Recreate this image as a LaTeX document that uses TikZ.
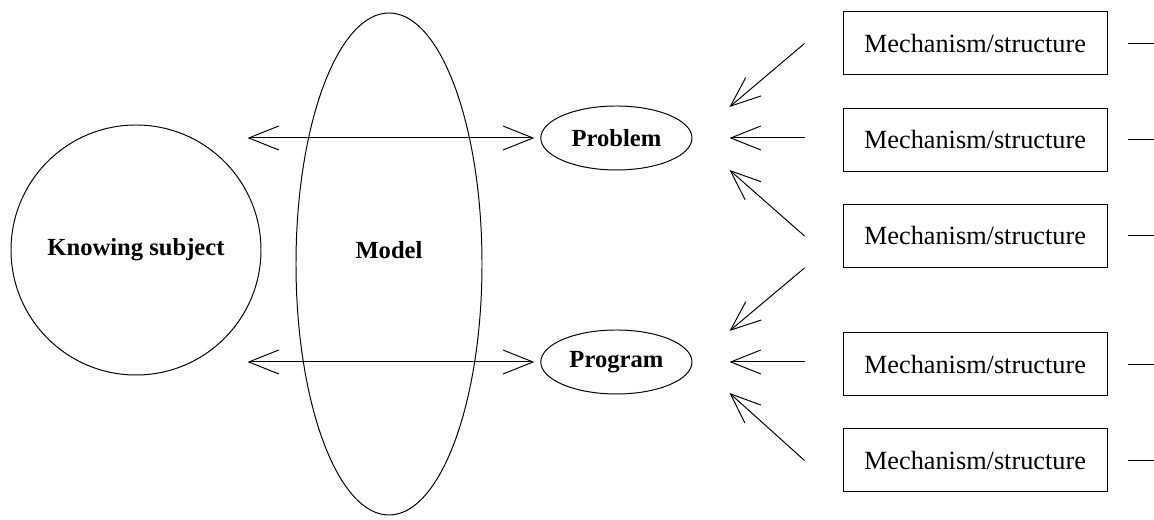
\documentclass[tikz,border=0pt]{standalone}
\usepackage{fontspec}
\setmainfont{Liberation Serif}
\usetikzlibrary{arrows.meta,shapes.geometric}

\tikzset{
    plainfont/.style={font=\fontsize{18.7}{22}\selectfont},
    boldfont/.style={font=\fontsize{17.5}{21}\selectfont\bfseries},
    mechbox/.style={draw, plainfont, minimum width=6.6cm, minimum height=1.575cm, inner sep=0pt},
    roundnode/.style={draw, ellipse, boldfont, inner sep=0pt}
}

\begin{document}
\begin{tikzpicture}[>={Straight Barb[length=0.75cm,width=0.6cm]}, line width=0.7pt]

    \useasboundingbox (0,0) rectangle (28.85,13);

    % subject and model
    \node[draw, circle, boldfont, minimum size=6.25cm, inner sep=0pt] (subject) at (3.4,6.75) {Knowing subject};
    \node[roundnode, minimum width=4.65cm, minimum height=12.55cm] (model) at (9.725,6.4) {};
    \node[boldfont] (modeltext) at (9.725,6.75) {Model};

    % problem and program
    \node[roundnode, minimum width=3.78cm, minimum height=1.6cm] (problem) at (15.41,9.55) {Problem};
    \node[roundnode, minimum width=3.78cm, minimum height=1.6cm] (program) at (15.41,3.95) {Program};

    % double arrows through the model
    \draw[<->] ([xshift=-0.35cm]subject.east |- problem.west) -- ([xshift=-0.15cm]problem.west);
    \draw[<->] ([xshift=-0.35cm]subject.east |- program.west) -- ([xshift=-0.15cm]program.west);

    % mechanism boxes
    \foreach \n/\y in {1/11.9125, 2/9.5, 3/7.1, 4/3.8875, 5/1.4875} {
        \node[mechbox] (mech\n) at (24.375,\y) {Mechanism/structure};
        \draw ([xshift=0.525cm]mech\n.east) -- ++(0.65,0);
    }

    % arrows into problem
    \draw[->] ([xshift=-0.95cm]mech1.west) -- ([shift={(0.925cm,0.775cm)}]problem.east);
    \draw[->] ([xshift=-0.95cm]mech2.west |- problem.east) -- ([xshift=0.925cm]problem.east);
    \draw[->] ([xshift=-0.95cm]mech3.west) -- ([shift={(0.925cm,-0.8cm)}]problem.east);

    % arrows into program
    \draw[->] ([xshift=-0.95cm]mech3.south west) -- ([shift={(0.925cm,0.775cm)}]program.east);
    \draw[->] ([xshift=-0.95cm]mech4.west |- program.east) -- ([xshift=0.925cm]program.east);
    \draw[->] ([xshift=-0.95cm]mech5.west) -- ([shift={(0.925cm,-0.775cm)}]program.east);

\end{tikzpicture}
\end{document}
